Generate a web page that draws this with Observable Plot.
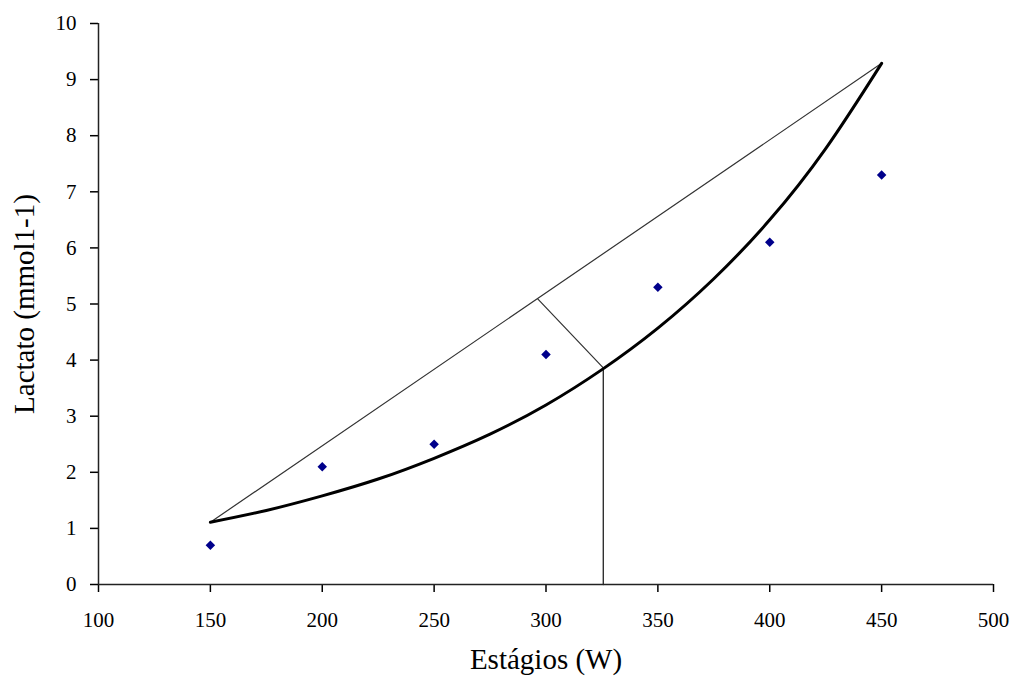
<!DOCTYPE html>
<html>
<head>
<meta charset="utf-8">
<script src="https://cdn.jsdelivr.net/npm/d3@7"></script>
<script src="https://cdn.jsdelivr.net/npm/@observablehq/plot@0.6"></script>
<style>
  html, body { margin: 0; padding: 0; background: white; }
</style>
</head>
<body>
<div id="chart"></div>
<script>
// Measured lactate at each stage (blue diamonds)
const stages = [150, 200, 250, 300, 350, 400, 450];
const lactate = [0.7, 2.1, 2.5, 4.1, 5.3, 6.1, 7.3];

// Fitted curve
const curveStages = [150, 175, 200, 225, 250, 275, 300, 325, 350, 375, 400, 425, 450];
const curveLactate = [1.11, 1.32, 1.58, 1.88, 2.25, 2.68, 3.2, 3.83, 4.57, 5.45, 6.5, 7.77, 9.29];

// Chord between curve ends
const chordStages = [150, 450];
const chordLactate = [1.11, 9.29];

// Perpendicular from chord to curve (Dmax)
const perpStages = [296.3, 325.6];
const perpLactate = [5.09, 3.86];

// Vertical line down to threshold stage
const thresholdStages = [325.6, 325.6];
const thresholdLactate = [3.86, 0];

// Tick labels
const xTicks = [100, 150, 200, 250, 300, 350, 400, 450, 500];
const yTicks = [0, 1, 2, 3, 4, 5, 6, 7, 8, 9, 10];

const xTitle = "Estágios (W)";
const yTitle = "Lactato (mmol1-1)";

const zip = (xs, ys) => xs.map((x, i) => ({x, y: ys[i]}));

const chart = Plot.plot({
  width: 1012,
  height: 684,
  marginLeft: 98,
  marginRight: 19,
  marginTop: 23,
  marginBottom: 100,
  style: {fontFamily: "'Liberation Serif', 'Times New Roman', serif", fontSize: "21px", background: "white", color: "black"},
  x: {domain: [100, 500]},
  y: {domain: [0, 10]},
  marks: [
    Plot.axisX({ticks: xTicks, tickSize: 8, tickPadding: 20, strokeWidth: 1.5, label: null, fontSize: 21}),
    Plot.axisY({ticks: yTicks, tickSize: 8, tickPadding: 14, strokeWidth: 1.5, label: null, fontSize: 21}),
    Plot.ruleY([0], {strokeWidth: 1.5, stroke: "#222"}),
    Plot.ruleX([100], {strokeWidth: 1.5, stroke: "#222"}),
    Plot.line(zip(thresholdStages, thresholdLactate), {x: "x", y: "y", stroke: "#222", strokeWidth: 1.3}),
    Plot.line(zip(chordStages, chordLactate), {x: "x", y: "y", stroke: "#333", strokeWidth: 1.2}),
    Plot.line(zip(perpStages, perpLactate), {x: "x", y: "y", stroke: "#333", strokeWidth: 1.2}),
    Plot.line(zip(curveStages, curveLactate), {x: "x", y: "y", curve: "natural", stroke: "black", strokeWidth: 3}),
    Plot.dot(zip(stages, lactate), {x: "x", y: "y", symbol: "diamond2", r: 4.3, fill: "#00008b", stroke: "none"}),
    Plot.text([xTitle], {frameAnchor: "bottom", textAnchor: "middle", dy: 84, fontSize: 29}),
    Plot.text([yTitle], {frameAnchor: "left", textAnchor: "middle", rotate: -90, dx: -74, fontSize: 29})
  ]
});
document.getElementById("chart").appendChild(chart);
</script>
</body>
</html>
